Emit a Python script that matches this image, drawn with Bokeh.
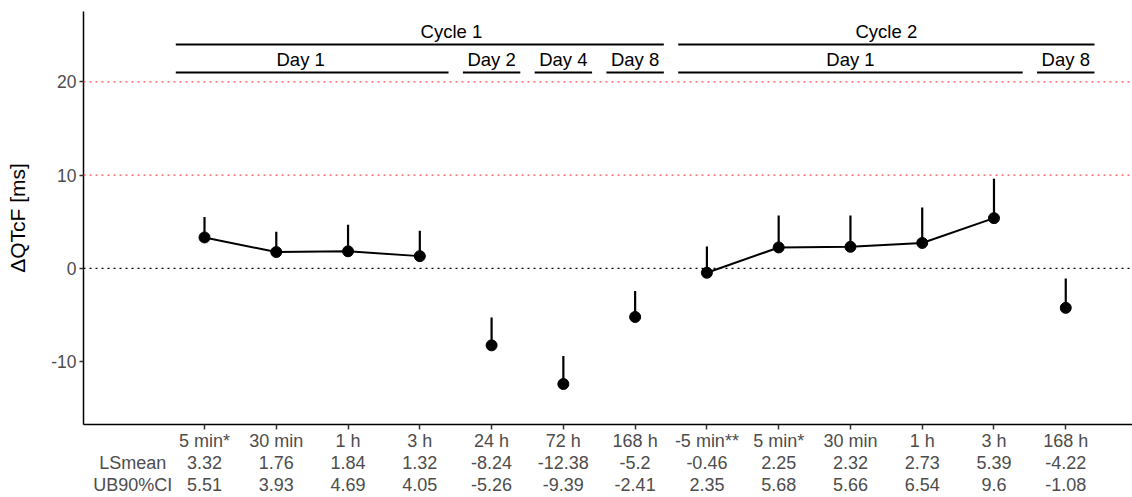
from bokeh.core.properties import value
from bokeh.embed import file_html
from bokeh.models import ColumnDataSource, FixedTicker, LinearAxis, Range1d, Span
from bokeh.plotting import figure
from bokeh.resources import INLINE

# QTcF change from baseline by time point (LSmean with upper 90% CI bound)

times = ["5 min*", "30 min", "1 h", "3 h", "24 h", "72 h", "168 h",
         "-5 min**", "5 min*", "30 min", "1 h", "3 h", "168 h"]
lsmean = [3.32, 1.76, 1.84, 1.32, -8.24, -12.38, -5.2,
          -0.46, 2.25, 2.32, 2.73, 5.39, -4.22]
ub90 = [5.51, 3.93, 4.69, 4.05, -5.26, -9.39, -2.41,
        2.35, 5.68, 5.66, 6.54, 9.6, -1.08]
y_ticks = [-10, 0, 10, 20]

# time points joined by a line (same day)
line_groups = [[0, 1, 2, 3], [7, 8, 9, 10, 11]]

cycle_names = ["Cycle 1", "Cycle 2"]
cycle_first = [0, 7]
cycle_last = [6, 12]
cycle_label_at = [3.44, 9.5]

day_names = ["Day 1", "Day 2", "Day 4", "Day 8", "Day 1", "Day 8"]
day_first = [0, 4, 5, 6, 7, 12]
day_last = [3, 4, 5, 6, 11, 12]
day_label_at = [1.34, 4, 5, 6, 9, 12]

FONT = "Liberation Sans"
GREY = "#4d4d4d"

idx = list(range(len(times)))
source = ColumnDataSource(data=dict(x=idx, lsmean=lsmean, ub=ub90))

p = figure(width=1132, height=497,
           x_range=Range1d(-1.686, 12.93), y_range=Range1d(-16.72, 27.53),
           output_backend="svg", toolbar_location=None,
           min_border_left=83, min_border_right=0,
           min_border_top=11, min_border_bottom=60)
p.outline_line_color = None
p.xgrid.grid_line_color = None
p.ygrid.grid_line_color = None

# reference lines
for loc, col in [(20, "#ff4d4d"), (10, "#ff4d4d"), (0, "black")]:
    p.add_layout(Span(location=loc, dimension="width", line_color=col,
                      line_width=1.3, line_dash="2 4"))

# error bars, lines, points
p.segment(x0="x", y0="lsmean", x1="x", y1="ub", source=source,
          line_color="black", line_width=2.2)
for g in line_groups:
    p.line([idx[i] for i in g], [lsmean[i] for i in g],
           line_color="black", line_width=2)
p.scatter(x="x", y="lsmean", source=source, size=11, color="black")

# cycle / day brackets
cyc_y, day_y = 24.0, 21.0
p.segment(x0=[i - 0.4 for i in cycle_first], x1=[i + 0.4 for i in cycle_last],
          y0=[cyc_y] * 2, y1=[cyc_y] * 2, line_color="black", line_width=2)
p.segment(x0=[i - 0.4 for i in day_first], x1=[i + 0.4 for i in day_last],
          y0=[day_y] * len(day_names), y1=[day_y] * len(day_names),
          line_color="black", line_width=2)
p.text(x=cycle_label_at, y=[cyc_y + 0.3] * 2, text=cycle_names,
       text_align="center", text_baseline="bottom", text_color="black",
       text_font=value(FONT), text_font_size=value("18.5px"))
p.text(x=day_label_at, y=[day_y + 0.3] * len(day_names), text=day_names,
       text_align="center", text_baseline="bottom", text_color="black",
       text_font=value(FONT), text_font_size=value("18.5px"))

# y axis
yax = p.yaxis[0]
yax.ticker = FixedTicker(ticks=y_ticks)
yax.major_label_overrides = {t: str(t) for t in y_ticks}
yax.axis_label = "ΔQTcF [ms]"
yax.axis_label_text_font = FONT
yax.axis_label_text_font_size = "21px"
yax.axis_label_text_font_style = "normal"
yax.axis_label_text_color = "black"
yax.axis_label_standoff = 19
yax.major_label_text_font = FONT
yax.major_label_text_font_size = "17.5px"
yax.major_label_text_color = GREY
yax.major_label_standoff = 3
yax.axis_line_width = 1.5
yax.axis_line_color = "black"
yax.major_tick_line_color = "#333333"
yax.major_tick_line_width = 1.5
yax.major_tick_out = 4
yax.major_tick_in = 0
yax.minor_tick_line_color = None

# x axis: time points
xax = p.xaxis[0]
xax.ticker = FixedTicker(ticks=idx)
xax.major_label_overrides = {i: t for i, t in enumerate(times)}
xax.major_label_text_font = FONT
xax.major_label_text_font_size = "18px"
xax.major_label_text_color = GREY
xax.major_label_standoff = 1
xax.axis_line_width = 1.5
xax.axis_line_color = "black"
xax.major_tick_line_color = "#333333"
xax.major_tick_line_width = 1.5
xax.major_tick_out = 5
xax.major_tick_in = 0
xax.minor_tick_line_color = None

# table rows under the axis
for row_name, row_vals in [("LSmean", lsmean), ("UB90%CI", ub90)]:
    labels = {-1: row_name}
    labels.update({i: str(v) for i, v in enumerate(row_vals)})
    ax = LinearAxis(ticker=FixedTicker(ticks=[-1] + idx),
                    major_label_overrides=labels,
                    major_label_text_font=FONT,
                    major_label_text_font_size="18px",
                    major_label_text_color=GREY,
                    major_label_standoff=-1,
                    axis_line_color=None,
                    major_tick_line_color=None,
                    minor_tick_line_color=None,
                    major_tick_out=0, major_tick_in=0)
    p.add_layout(ax, "below")

open("out.html", "w").write(file_html(p, INLINE))
